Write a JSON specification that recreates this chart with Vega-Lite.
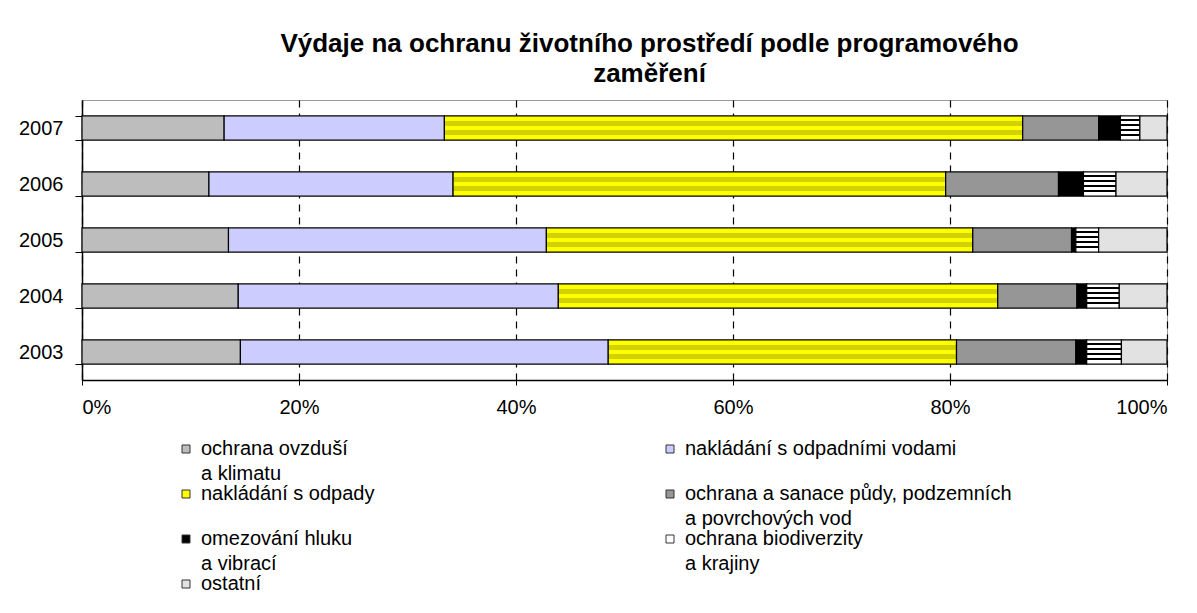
{
  "$schema": "https://vega.github.io/schema/vega-lite/v6.json",
  "width": 1085,
  "height": 280,
  "autosize": "none",
  "padding": {"left": 82, "top": 100, "right": 30, "bottom": 233},
  "background": "white",
  "title": {
    "text": ["Výdaje na ochranu životního prostředí podle programového", "zaměření"],
    "font": "Liberation Sans",
    "fontSize": 26,
    "fontWeight": "bold",
    "lineHeight": 30,
    "color": "black",
    "anchor": "middle",
    "dx": 25,
    "offset": 3
  },
  "data": {
    "values": [
      {"year": "2007", "k": 1, "cat": "ochrana ovzduší|a klimatu", "value": 13.1},
      {"year": "2007", "k": 2, "cat": "nakládání s odpadními vodami|", "value": 20.3},
      {"year": "2007", "k": 3, "cat": "nakládání s odpady|", "value": 53.3},
      {"year": "2007", "k": 4, "cat": "ochrana a sanace půdy, podzemních|a povrchových vod", "value": 7.0},
      {"year": "2007", "k": 5, "cat": "omezování hluku|a vibrací", "value": 2.0},
      {"year": "2007", "k": 6, "cat": "ochrana biodiverzity|a krajiny", "value": 1.8},
      {"year": "2007", "k": 7, "cat": "ostatní", "value": 2.5},
      {"year": "2006", "k": 1, "cat": "ochrana ovzduší|a klimatu", "value": 11.7},
      {"year": "2006", "k": 2, "cat": "nakládání s odpadními vodami|", "value": 22.5},
      {"year": "2006", "k": 3, "cat": "nakládání s odpady|", "value": 45.4},
      {"year": "2006", "k": 4, "cat": "ochrana a sanace půdy, podzemních|a povrchových vod", "value": 10.4},
      {"year": "2006", "k": 5, "cat": "omezování hluku|a vibrací", "value": 2.3},
      {"year": "2006", "k": 6, "cat": "ochrana biodiverzity|a krajiny", "value": 3.0},
      {"year": "2006", "k": 7, "cat": "ostatní", "value": 4.7},
      {"year": "2005", "k": 1, "cat": "ochrana ovzduší|a klimatu", "value": 13.5},
      {"year": "2005", "k": 2, "cat": "nakládání s odpadními vodami|", "value": 29.3},
      {"year": "2005", "k": 3, "cat": "nakládání s odpady|", "value": 39.3},
      {"year": "2005", "k": 4, "cat": "ochrana a sanace půdy, podzemních|a povrchových vod", "value": 9.1},
      {"year": "2005", "k": 5, "cat": "omezování hluku|a vibrací", "value": 0.4},
      {"year": "2005", "k": 6, "cat": "ochrana biodiverzity|a krajiny", "value": 2.1},
      {"year": "2005", "k": 7, "cat": "ostatní", "value": 6.3},
      {"year": "2004", "k": 1, "cat": "ochrana ovzduší|a klimatu", "value": 14.4},
      {"year": "2004", "k": 2, "cat": "nakládání s odpadními vodami|", "value": 29.5},
      {"year": "2004", "k": 3, "cat": "nakládání s odpady|", "value": 40.5},
      {"year": "2004", "k": 4, "cat": "ochrana a sanace půdy, podzemních|a povrchových vod", "value": 7.3},
      {"year": "2004", "k": 5, "cat": "omezování hluku|a vibrací", "value": 0.9},
      {"year": "2004", "k": 6, "cat": "ochrana biodiverzity|a krajiny", "value": 3.0},
      {"year": "2004", "k": 7, "cat": "ostatní", "value": 4.4},
      {"year": "2003", "k": 1, "cat": "ochrana ovzduší|a klimatu", "value": 14.6},
      {"year": "2003", "k": 2, "cat": "nakládání s odpadními vodami|", "value": 33.9},
      {"year": "2003", "k": 3, "cat": "nakládání s odpady|", "value": 32.1},
      {"year": "2003", "k": 4, "cat": "ochrana a sanace půdy, podzemních|a povrchových vod", "value": 11.0},
      {"year": "2003", "k": 5, "cat": "omezování hluku|a vibrací", "value": 1.0},
      {"year": "2003", "k": 6, "cat": "ochrana biodiverzity|a krajiny", "value": 3.2},
      {"year": "2003", "k": 7, "cat": "ostatní", "value": 4.2}
    ]
  },
  "mark": {"type": "bar", "stroke": "black", "strokeWidth": 1.2},
  "encoding": {
    "y": {
      "field": "year",
      "type": "ordinal",
      "sort": "descending",
      "scale": {"paddingInner": 0.57, "paddingOuter": 0.285},
      "axis": {
        "title": null,
        "tickBand": "extent",
        "tickSize": 7,
        "tickColor": "black",
        "domainColor": "black",
        "domainWidth": 1.5,
        "labelFont": "Liberation Sans",
        "labelFontSize": 20,
        "labelColor": "black",
        "labelPadding": 12
      }
    },
    "x": {
      "field": "value",
      "type": "quantitative",
      "stack": "normalize",
      "scale": {"domain": [0, 1]},
      "axis": {
        "title": null,
        "format": "%",
        "values": [0, 0.2, 0.4, 0.6, 0.8, 1],
        "grid": true,
        "gridColor": "black",
        "gridOpacity": 1,
        "gridDash": [7, 6],
        "gridWidth": 1.2,
        "tickSize": 5,
        "tickColor": "black",
        "domainColor": "black",
        "domainWidth": 1.5,
        "labelFont": "Liberation Sans",
        "labelFontSize": 20,
        "labelColor": "black",
        "labelPadding": 12
      }
    },
    "order": {"field": "k"},
    "fill": {
      "condition": [
        {
          "test": "datum.cat === 'ochrana biodiverzity|a krajiny'",
          "value": {
            "gradient": "linear", "x1": 0, "y1": 0, "x2": 0, "y2": 1,
            "stops": [
              {"offset": 0, "color": "#ffffff"},
              {"offset": 0.12, "color": "#ffffff"},
              {"offset": 0.12, "color": "#000000"},
              {"offset": 0.2, "color": "#000000"},
              {"offset": 0.2, "color": "#ffffff"},
              {"offset": 0.32, "color": "#ffffff"},
              {"offset": 0.32, "color": "#000000"},
              {"offset": 0.4, "color": "#000000"},
              {"offset": 0.4, "color": "#ffffff"},
              {"offset": 0.54, "color": "#ffffff"},
              {"offset": 0.54, "color": "#000000"},
              {"offset": 0.62, "color": "#000000"},
              {"offset": 0.62, "color": "#ffffff"},
              {"offset": 0.76, "color": "#ffffff"},
              {"offset": 0.76, "color": "#000000"},
              {"offset": 0.84, "color": "#000000"},
              {"offset": 0.84, "color": "#ffffff"},
              {"offset": 1, "color": "#ffffff"}
            ]
          }
        },
        {
          "test": "datum.cat === 'nakládání s odpady|'",
          "value": {
            "gradient": "linear", "x1": 0, "y1": 0, "x2": 0, "y2": 1,
            "stops": [
              {"offset": 0, "color": "#ffff00"},
              {"offset": 0.22, "color": "#ffff00"},
              {"offset": 0.22, "color": "#d2d200"},
              {"offset": 0.4, "color": "#d2d200"},
              {"offset": 0.4, "color": "#ffff00"},
              {"offset": 0.6, "color": "#ffff00"},
              {"offset": 0.6, "color": "#d2d200"},
              {"offset": 0.78, "color": "#d2d200"},
              {"offset": 0.78, "color": "#ffff00"},
              {"offset": 1, "color": "#ffff00"}
            ]
          }
        }
      ],
      "field": "cat",
      "type": "nominal",
      "scale": {
        "domain": [
          "ochrana ovzduší|a klimatu",
          "nakládání s odpadními vodami|",
          "nakládání s odpady|",
          "ochrana a sanace půdy, podzemních|a povrchových vod",
          "omezování hluku|a vibrací",
          "ochrana biodiverzity|a krajiny",
          "ostatní"
        ],
        "range": ["#bdbdbd", "#ccccff", "#ffff00", "#969696", "#000000", "#ffffff", "#e2e2e2"]
      },
      "legend": {
        "orient": "none",
        "direction": "horizontal",
        "legendX": 94,
        "legendY": 339,
        "columns": 2,
        "columnPadding": 285,
        "rowPadding": 0,
        "padding": 0,
        "title": null,
        "symbolType": "square",
        "symbolSize": 64,
        "symbolStrokeColor": "#333333",
        "symbolStrokeWidth": 1,
        "labelFont": "Liberation Sans",
        "labelFontSize": 20,
        "labelColor": "black",
        "labelLimit": 500,
        "labelOffset": 5,
        "labelExpr": "split(datum.label, '|')",
        "encode": {"labels": {"update": {"lineHeight": {"value": 25}}}}
      }
    }
  },
  "config": {
    "view": {"stroke": "#999999", "strokeWidth": 1}
  }
}
